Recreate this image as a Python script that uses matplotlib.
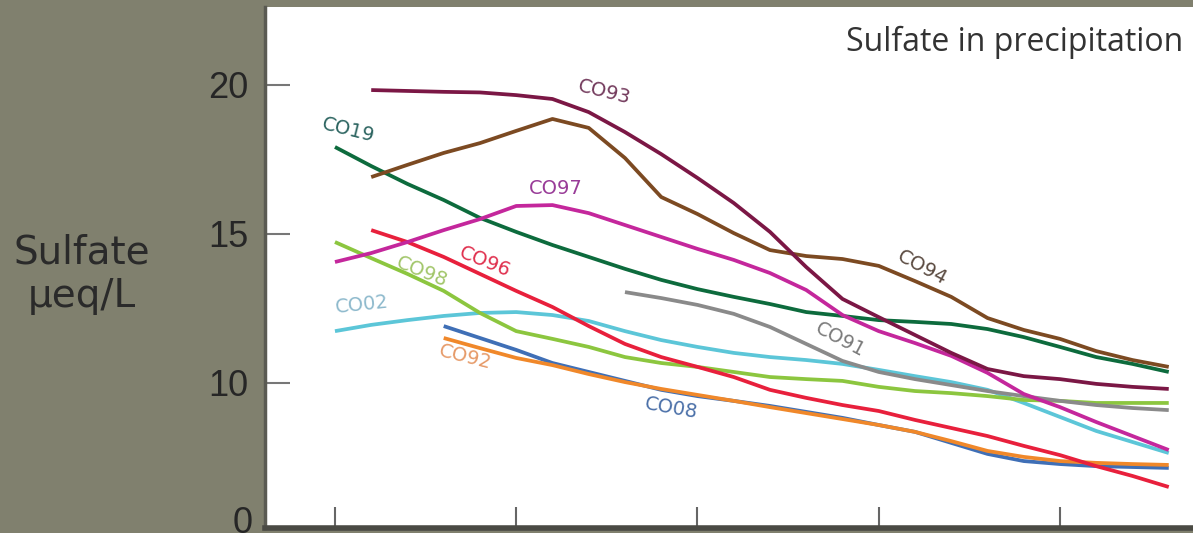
import matplotlib
matplotlib.use("Agg")
import matplotlib.pyplot as plt

# Annual sulfate concentration in precipitation at Colorado NADP sites (ueq/L)
years_86 = list(range(1986, 2009))
years_85 = list(range(1985, 2009))
years_88 = list(range(1988, 2009))
years_93 = list(range(1993, 2009))

co93 = [19.83, 19.80, 19.77, 19.75, 19.66, 19.53, 19.09, 18.42, 17.68, 16.88, 16.04,
        15.07, 13.89, 12.82, 12.21, 11.61, 11.01, 10.47, 10.23, 10.13, 9.97, 9.87, 9.80]
co94 = [16.91, 17.32, 17.72, 18.05, 18.46, 18.86, 18.56, 17.55, 16.24, 15.67, 15.03,
        14.46, 14.26, 14.16, 13.93, 13.42, 12.89, 12.18, 11.78, 11.48, 11.07, 10.77, 10.54]
co19 = [17.92, 17.28, 16.68, 16.14, 15.54, 15.07, 14.63, 14.23, 13.83, 13.46, 13.15, 12.89,
        12.65, 12.38, 12.25, 12.11, 12.05, 11.98, 11.81, 11.54, 11.21, 10.87, 10.64, 10.37]
co97 = [14.06, 14.36, 14.73, 15.13, 15.50, 15.94, 15.97, 15.70, 15.30, 14.90, 14.50, 14.13,
        13.69, 13.12, 12.28, 11.74, 11.34, 10.91, 10.34, 9.63, 9.19, 8.69, 8.22, 7.75]
co96 = [15.13, 14.73, 14.23, 13.66, 13.09, 12.55, 11.91, 11.31, 10.87, 10.54, 10.20,
        9.77, 9.50, 9.26, 9.06, 8.76, 8.49, 8.22, 7.89, 7.58, 7.21, 6.88, 6.51]
co98 = [14.73, 14.19, 13.66, 13.09, 12.35, 11.74, 11.48, 11.21, 10.87, 10.67, 10.54, 10.37,
        10.20, 10.13, 10.07, 9.87, 9.73, 9.66, 9.56, 9.43, 9.40, 9.33, 9.33, 9.33]
co02 = [11.74, 11.95, 12.11, 12.25, 12.35, 12.38, 12.28, 12.08, 11.74, 11.44, 11.21, 11.01,
        10.87, 10.77, 10.64, 10.44, 10.23, 10.03, 9.77, 9.33, 8.86, 8.39, 8.02, 7.65]
co91 = [13.05, 12.85, 12.62, 12.32, 11.88, 11.31, 10.74, 10.37, 10.13, 9.93, 9.73,
        9.56, 9.40, 9.26, 9.16, 9.09]
co08 = [11.91, 11.51, 11.11, 10.67, 10.37, 10.07, 9.77, 9.56, 9.40, 9.23, 9.03,
        8.83, 8.59, 8.36, 7.99, 7.62, 7.38, 7.28, 7.21, 7.18, 7.15]
co92 = [11.51, 11.17, 10.84, 10.60, 10.30, 10.03, 9.80, 9.60, 9.40, 9.19, 8.99,
        8.79, 8.59, 8.36, 8.05, 7.72, 7.52, 7.38, 7.32, 7.28, 7.25]

series = [
    ("CO02", years_85, co02, "#5cc6d8", "#8db9cc", (1985.74, 12.62), 6),
    ("CO98", years_85, co98, "#8cc63f", "#a2c66a", (1987.40, 13.72), -22),
    ("CO91", years_93, co91, "#8a8a8a", "#7a7a7a", (1998.93, 11.44), -28),
    ("CO08", years_88, co08, "#3f6fb6", "#4a6fa8", (1994.27, 9.16), -10),
    ("CO92", years_88, co92, "#f0882a", "#e69a68", (1988.59, 10.87), -14),
    ("CO96", years_86, co96, "#e8203c", "#e0304e", (1989.14, 14.06), -22),
    ("CO19", years_85, co19, "#0d6b3d", "#2c6460", (1985.36, 18.49), -14),
    ("CO97", years_85, co97, "#c4279c", "#993c98", (1991.10, 16.54), 0),
    ("CO94", years_86, co94, "#7c4a22", "#5a4a40", (2001.19, 13.86), -28),
    ("CO93", years_86, co93, "#7b1745", "#733a5c", (1992.42, 19.77), -14),
]

W, H = 1193, 533
fig = plt.figure(figsize=(W / 100, H / 100), dpi=100, facecolor="#80806e")
ax = fig.add_axes([265 / W, 5 / H, (1205 - 265) / W, (528 - 7) / H])
ax.set_facecolor("white")

for name, xs, ys, color, tcolor, pos, rot in series:
    ax.plot(xs, ys, color=color, lw=2.7, solid_joinstyle="round",
            solid_capstyle="butt")
    ax.text(pos[0], pos[1], name, color=tcolor, fontsize=14, rotation=rot,
            ha="center", va="center", family="DejaVu Sans")

ax.set_xlim(1983.07, 1985 + (1205 - 335) / 36.25)
ax.set_ylim(5.134, 22.617)

ax.set_yticks([10, 15, 20])
ax.set_yticklabels(["10", "15", "20"])
ax.set_xticks([1985, 1990, 1995, 2000, 2005])
ax.set_xticklabels([])
ax.tick_params(axis="y", direction="in", length=18, width=1.5, color="#777777",
               pad=12, labelsize=26, labelcolor="#262626")
ax.tick_params(axis="x", direction="in", length=15, width=1.5, color="#666666")
for lab in ax.get_yticklabels():
    lab.set_family("Liberation Sans")

# broken axis: bottom of the scale is labelled zero
ax.text(-12 / 940, 5.30, "0", transform=ax.get_yaxis_transform(), ha="right",
        va="center", fontsize=26, color="#262626", family="Liberation Sans")

for side in ["top", "right"]:
    ax.spines[side].set_visible(False)
ax.spines["left"].set_color("#5a5a52")
ax.spines["left"].set_linewidth(2.5)
ax.spines["bottom"].set_color("#4a4a44")
ax.spines["bottom"].set_linewidth(4)

fig.text(82 / W, 1 - 274 / H, "Sulfate\nµeq/L", ha="center", va="center",
         fontsize=28, color="#2a2a2a", family="DejaVu Sans", linespacing=1.2)
fig.text(1183 / W, 1 - 42 / H, "Sulfate in precipitation", ha="right",
         va="center", fontsize=23, color="#333333", family="Open Sans")

fig.savefig("out.png", dpi=100, facecolor=fig.get_facecolor())
